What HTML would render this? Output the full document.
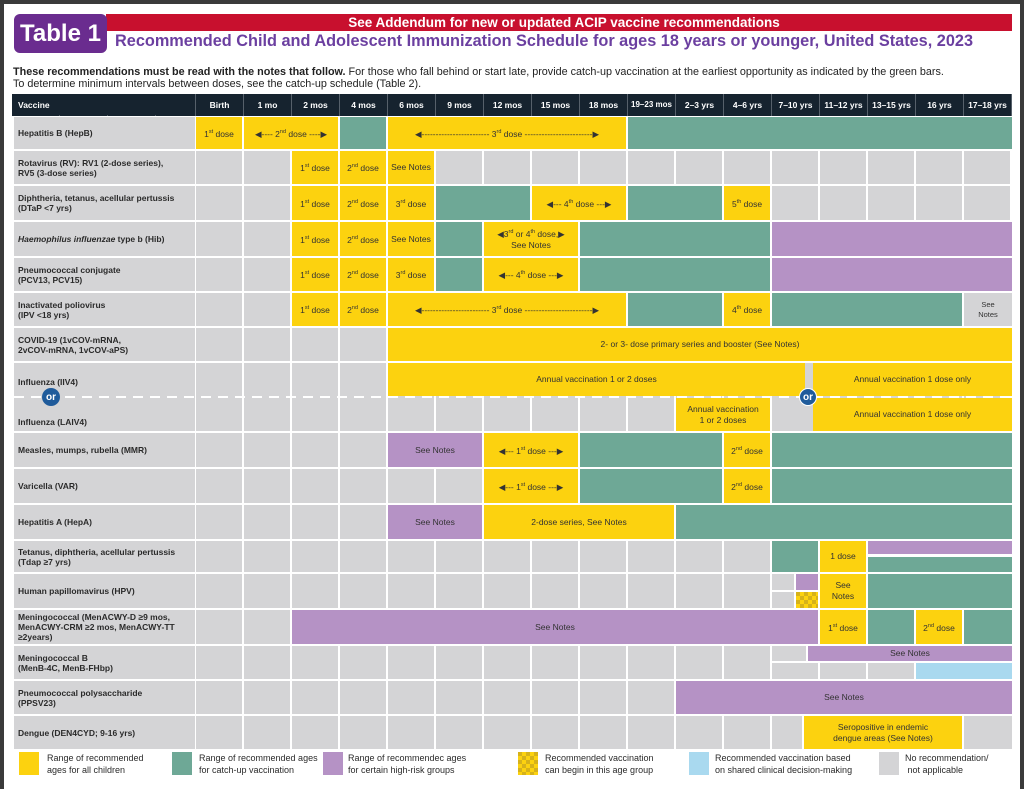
<!DOCTYPE html>
<html><head><meta charset="utf-8"><style>
*{margin:0;padding:0;box-sizing:border-box}
body{width:1024px;height:789px;background:#fff;position:relative;overflow:hidden;font-family:"Liberation Sans",sans-serif;color:#2a2a2a}
.a{position:absolute}
.r{position:absolute;left:12px;width:1000px}
.r .n{position:absolute;left:2px;top:1px;bottom:1px;width:181px;background:#d4d4d6;font-size:8.5px;font-weight:bold;padding-left:4px;display:flex;align-items:center;line-height:10px;color:#2a2a2a}
.r .g{position:absolute;left:183px;top:1px;bottom:1px;right:0;background:repeating-linear-gradient(90deg,#fff 0 1px,#d4d4d6 1px 47px,#fff 47px 48px)}
.b{position:absolute;display:flex;align-items:center;justify-content:center;text-align:center;font-size:8.5px;color:#333;line-height:11px}
.y{background:#fcd20f}.gr{background:#6ea896}.p{background:#b592c5}.gy{background:#d4d4d6}.bl{background:#a9d9ef}
sup{font-size:5.5px}
.h{position:absolute;top:0;height:21px;display:flex;align-items:center;justify-content:center;color:#fff;font-size:8.5px;font-weight:bold}
</style></head><body>
<div class="a" style="left:0;top:0;width:1024px;height:4px;background:#3a3a3a"></div>
<div class="a" style="left:0;top:0;width:4px;height:789px;background:#3a3a3a"></div>
<div class="a" style="right:0;top:0;width:4px;height:789px;background:#3a3a3a"></div>

<div class="a" style="left:106px;top:14px;width:906px;height:17px;background:#c8102e;color:#fff;font-weight:bold;font-size:13.5px;text-align:center;line-height:17px;padding-left:10px">See Addendum for new or updated ACIP vaccine recommendations</div>
<div class="a" style="left:14px;top:14px;width:93px;height:39px;background:#6a2c8f;border-radius:6px;color:#fff;font-weight:bold;font-size:24px;line-height:39px;text-align:center">Table 1</div>
<div class="a" style="left:115px;top:32px;font-size:16.3px;font-weight:bold;color:#6b3fa0;white-space:nowrap">Recommended Child and Adolescent Immunization Schedule for ages 18 years or younger, United States, 2023</div>
<div class="a" style="left:13px;top:66px;font-size:10.8px;line-height:12px;color:#222;white-space:nowrap"><b>These recommendations must be read with the notes that follow.</b> For those who fall behind or start late, provide catch-up vaccination at the earliest opportunity as indicated by the green bars.<br>To determine minimum intervals between doses, see the catch-up schedule (Table 2).</div>

<!-- header -->
<div class="a" style="left:12px;top:94px;width:1000px;height:22px;background:repeating-linear-gradient(90deg,#56606a 0 1px,#16232f 1px 48px);background-position:183px 0">
<div class="h" style="left:0;width:183px;background:#16232f;justify-content:flex-start;padding-left:6px">Vaccine</div>
<div class="h" style="left:184px;width:47px">Birth</div><div class="h" style="left:232px;width:47px">1 mo</div><div class="h" style="left:280px;width:47px">2 mos</div><div class="h" style="left:328px;width:47px">4 mos</div><div class="h" style="left:376px;width:47px">6 mos</div><div class="h" style="left:424px;width:47px">9 mos</div><div class="h" style="left:472px;width:47px">12 mos</div><div class="h" style="left:520px;width:47px">15 mos</div><div class="h" style="left:568px;width:47px">18 mos</div><div class="h" style="left:616px;width:47px;font-size:8px">19–23 mos</div><div class="h" style="left:664px;width:47px">2–3 yrs</div><div class="h" style="left:712px;width:47px">4–6 yrs</div><div class="h" style="left:760px;width:47px">7–10 yrs</div><div class="h" style="left:808px;width:47px">11–12 yrs</div><div class="h" style="left:856px;width:47px">13–15 yrs</div><div class="h" style="left:904px;width:47px">16 yrs</div><div class="h" style="left:952px;width:47px">17–18 yrs</div>
</div>

<!-- row backgrounds -->
<div class="r" style="top:116px;height:34px"><div class="n">Hepatitis B (HepB)</div><div class="g"></div></div>
<div class="r" style="top:150px;height:35px"><div class="n">Rotavirus (RV): RV1 (2-dose series),<br>RV5 (3-dose series)</div><div class="g"></div></div>
<div class="r" style="top:185px;height:36px"><div class="n">Diphtheria, tetanus, acellular pertussis<br>(DTaP &lt;7 yrs)</div><div class="g"></div></div>
<div class="r" style="top:221px;height:36px"><div class="n"><span><i>Haemophilus influenzae</i> type b (Hib)</span></div><div class="g"></div></div>
<div class="r" style="top:257px;height:35px"><div class="n">Pneumococcal conjugate<br>(PCV13, PCV15)</div><div class="g"></div></div>
<div class="r" style="top:292px;height:35px"><div class="n">Inactivated poliovirus<br>(IPV &lt;18 yrs)</div><div class="g"></div></div>
<div class="r" style="top:327px;height:35px"><div class="n">COVID-19 (1vCOV-mRNA,<br>2vCOV-mRNA, 1vCOV-aPS)</div><div class="g"></div></div>
<div class="r" style="top:362px;height:70px"><div class="n" style="align-items:flex-start;padding-top:14px;line-height:10px">Influenza (IIV4)<br><br><br><br>Influenza (LAIV4)</div><div class="g"></div></div>
<div class="r" style="top:432px;height:36px"><div class="n">Measles, mumps, rubella (MMR)</div><div class="g"></div></div>
<div class="r" style="top:468px;height:36px"><div class="n">Varicella (VAR)</div><div class="g"></div></div>
<div class="r" style="top:504px;height:36px"><div class="n">Hepatitis A (HepA)</div><div class="g"></div></div>
<div class="r" style="top:540px;height:33px"><div class="n">Tetanus, diphtheria, acellular pertussis<br>(Tdap ≥7 yrs)</div><div class="g"></div></div>
<div class="r" style="top:573px;height:36px"><div class="n">Human papillomavirus (HPV)</div><div class="g"></div></div>
<div class="r" style="top:609px;height:36px"><div class="n">Meningococcal (MenACWY-D ≥9 mos,<br>MenACWY-CRM ≥2 mos, MenACWY-TT<br>≥2years)</div><div class="g"></div></div>
<div class="r" style="top:645px;height:35px"><div class="n">Meningococcal B<br>(MenB-4C, MenB-FHbp)</div><div class="g"></div></div>
<div class="r" style="top:680px;height:35px"><div class="n">Pneumococcal polysaccharide<br>(PPSV23)</div><div class="g"></div></div>
<div class="r" style="top:715px;height:35px"><div class="n">Dengue (DEN4CYD; 9-16 yrs)</div><div class="g"></div></div>

<!-- HepB -->
<div class="b y" style="left:196px;top:117px;width:46px;height:32px"><span>1<sup>st</sup>&nbsp;dose</span></div>
<div class="b y" style="left:244px;top:117px;width:94px;height:32px"><span>◀‑‑‑‑ 2<sup>nd</sup>&nbsp;dose ‑‑‑‑▶</span></div>
<div class="b gr" style="left:340px;top:117px;width:46px;height:32px"></div>
<div class="b y" style="left:388px;top:117px;width:238px;height:32px"><span>◀‑‑‑‑‑‑‑‑‑‑‑‑‑‑‑‑‑‑‑‑‑‑‑‑ 3<sup>rd</sup>&nbsp;dose ‑‑‑‑‑‑‑‑‑‑‑‑‑‑‑‑‑‑‑‑‑‑‑‑▶</span></div>
<div class="b gr" style="left:628px;top:117px;width:384px;height:32px"></div>
<!-- Rota -->
<div class="b y" style="left:292px;top:151px;width:46px;height:33px"><span>1<sup>st</sup>&nbsp;dose</span></div>
<div class="b y" style="left:340px;top:151px;width:46px;height:33px"><span>2<sup>nd</sup>&nbsp;dose</span></div>
<div class="b y" style="left:388px;top:151px;width:46px;height:33px">See Notes</div>
<!-- DTaP -->
<div class="b y" style="left:292px;top:186px;width:46px;height:34px"><span>1<sup>st</sup>&nbsp;dose</span></div>
<div class="b y" style="left:340px;top:186px;width:46px;height:34px"><span>2<sup>nd</sup>&nbsp;dose</span></div>
<div class="b y" style="left:388px;top:186px;width:46px;height:34px"><span>3<sup>rd</sup>&nbsp;dose</span></div>
<div class="b gr" style="left:436px;top:186px;width:94px;height:34px"></div>
<div class="b y" style="left:532px;top:186px;width:94px;height:34px"><span>◀‑‑‑ 4<sup>th</sup>&nbsp;dose ‑‑‑▶</span></div>
<div class="b gr" style="left:628px;top:186px;width:94px;height:34px"></div>
<div class="b y" style="left:724px;top:186px;width:46px;height:34px"><span>5<sup>th</sup>&nbsp;dose</span></div>
<!-- Hib -->
<div class="b y" style="left:292px;top:222px;width:46px;height:34px"><span>1<sup>st</sup>&nbsp;dose</span></div>
<div class="b y" style="left:340px;top:222px;width:46px;height:34px"><span>2<sup>nd</sup>&nbsp;dose</span></div>
<div class="b y" style="left:388px;top:222px;width:46px;height:34px">See Notes</div>
<div class="b gr" style="left:436px;top:222px;width:46px;height:34px"></div>
<div class="b y" style="left:484px;top:222px;width:94px;height:34px"><span style="white-space:nowrap">◀3<sup>rd</sup>&nbsp;or&nbsp;4<sup>th</sup>&nbsp;dose,▶<br>See Notes</span></div>
<div class="b gr" style="left:580px;top:222px;width:190px;height:34px"></div>
<div class="b p" style="left:772px;top:222px;width:240px;height:34px"></div>
<!-- PCV -->
<div class="b y" style="left:292px;top:258px;width:46px;height:33px"><span>1<sup>st</sup>&nbsp;dose</span></div>
<div class="b y" style="left:340px;top:258px;width:46px;height:33px"><span>2<sup>nd</sup>&nbsp;dose</span></div>
<div class="b y" style="left:388px;top:258px;width:46px;height:33px"><span>3<sup>rd</sup>&nbsp;dose</span></div>
<div class="b gr" style="left:436px;top:258px;width:46px;height:33px"></div>
<div class="b y" style="left:484px;top:258px;width:94px;height:33px"><span>◀‑‑‑ 4<sup>th</sup>&nbsp;dose ‑‑‑▶</span></div>
<div class="b gr" style="left:580px;top:258px;width:190px;height:33px"></div>
<div class="b p" style="left:772px;top:258px;width:240px;height:33px"></div>
<!-- IPV -->
<div class="b y" style="left:292px;top:293px;width:46px;height:33px"><span>1<sup>st</sup>&nbsp;dose</span></div>
<div class="b y" style="left:340px;top:293px;width:46px;height:33px"><span>2<sup>nd</sup>&nbsp;dose</span></div>
<div class="b y" style="left:388px;top:293px;width:238px;height:33px"><span>◀‑‑‑‑‑‑‑‑‑‑‑‑‑‑‑‑‑‑‑‑‑‑‑‑ 3<sup>rd</sup>&nbsp;dose ‑‑‑‑‑‑‑‑‑‑‑‑‑‑‑‑‑‑‑‑‑‑‑‑▶</span></div>
<div class="b gr" style="left:628px;top:293px;width:94px;height:33px"></div>
<div class="b y" style="left:724px;top:293px;width:46px;height:33px"><span>4<sup>th</sup>&nbsp;dose</span></div>
<div class="b gr" style="left:772px;top:293px;width:190px;height:33px"></div>
<div class="b gy" style="left:964px;top:293px;width:48px;height:33px;font-size:7.5px;line-height:10px"><span>See<br>Notes</span></div>
<!-- COVID -->
<div class="b y" style="left:388px;top:328px;width:624px;height:33px">2- or 3- dose primary series and booster (See Notes)</div>
<!-- Flu -->
<div class="b y" style="left:388px;top:363px;width:417px;height:33px">Annual vaccination 1 or 2 doses</div>
<div class="b y" style="left:813px;top:363px;width:199px;height:33px">Annual vaccination 1 dose only</div>
<div class="b y" style="left:676px;top:398px;width:94px;height:33px"><span>Annual vaccination<br>1 or 2 doses</span></div>
<div class="b y" style="left:813px;top:398px;width:199px;height:33px">Annual vaccination 1 dose only</div>
<div class="a" style="left:14px;top:396px;width:998px;height:2px;background:repeating-linear-gradient(90deg,#fff 0 10px,transparent 10px 17px)"></div>
<div class="b" style="left:42px;top:388px;width:18px;height:18px;border-radius:50%;background:#1f5b9b;color:#fff;font-weight:bold;font-size:10px">or</div>
<div class="b" style="left:799px;top:388px;width:18px;height:18px;border-radius:50%;background:#1f5b9b;color:#fff;font-weight:bold;font-size:10px;border:1px solid #fff">or</div>
<!-- MMR -->
<div class="b p" style="left:388px;top:433px;width:94px;height:34px">See Notes</div>
<div class="b y" style="left:484px;top:433px;width:94px;height:34px"><span>◀‑‑‑ 1<sup>st</sup>&nbsp;dose ‑‑‑▶</span></div>
<div class="b gr" style="left:580px;top:433px;width:142px;height:34px"></div>
<div class="b y" style="left:724px;top:433px;width:46px;height:34px"><span>2<sup>nd</sup>&nbsp;dose</span></div>
<div class="b gr" style="left:772px;top:433px;width:240px;height:34px"></div>
<!-- VAR -->
<div class="b y" style="left:484px;top:469px;width:94px;height:34px"><span>◀‑‑‑ 1<sup>st</sup>&nbsp;dose ‑‑‑▶</span></div>
<div class="b gr" style="left:580px;top:469px;width:142px;height:34px"></div>
<div class="b y" style="left:724px;top:469px;width:46px;height:34px"><span>2<sup>nd</sup>&nbsp;dose</span></div>
<div class="b gr" style="left:772px;top:469px;width:240px;height:34px"></div>
<!-- HepA -->
<div class="b p" style="left:388px;top:505px;width:94px;height:34px">See Notes</div>
<div class="b y" style="left:484px;top:505px;width:190px;height:34px">2-dose series, See Notes</div>
<div class="b gr" style="left:676px;top:505px;width:336px;height:34px"></div>
<!-- Tdap -->
<div class="a" style="left:866px;top:541px;width:146px;height:31px;background:#fff"></div>
<div class="b gr" style="left:772px;top:541px;width:46px;height:31px"></div>
<div class="b y" style="left:820px;top:541px;width:46px;height:31px">1 dose</div>
<div class="b p" style="left:868px;top:541px;width:144px;height:13px"></div>
<div class="b gr" style="left:868px;top:557px;width:144px;height:15px"></div>
<!-- HPV -->
<div class="a" style="left:772px;top:574px;width:46px;height:34px;background:#fff"></div>
<div class="b gy" style="left:772px;top:574px;width:22px;height:16px"></div>
<div class="b p" style="left:796px;top:574px;width:22px;height:16px"></div>
<div class="b gy" style="left:772px;top:592px;width:22px;height:16px"></div>
<div class="b" style="left:796px;top:592px;width:22px;height:16px;background:repeating-conic-gradient(#fcd20f 0 25%,#d6b21a 0 50%) 0 0/8px 8px"></div>
<div class="b y" style="left:820px;top:574px;width:46px;height:34px"><span>See<br>Notes</span></div>
<div class="b gr" style="left:868px;top:574px;width:144px;height:34px"></div>
<!-- MenACWY -->
<div class="b p" style="left:292px;top:610px;width:526px;height:34px">See Notes</div>
<div class="b y" style="left:820px;top:610px;width:46px;height:34px"><span>1<sup>st</sup>&nbsp;dose</span></div>
<div class="b gr" style="left:868px;top:610px;width:46px;height:34px"></div>
<div class="b y" style="left:916px;top:610px;width:46px;height:34px"><span>2<sup>nd</sup>&nbsp;dose</span></div>
<div class="b gr" style="left:964px;top:610px;width:48px;height:34px"></div>
<!-- MenB -->
<div class="a" style="left:772px;top:646px;width:240px;height:33px;background:#fff"></div>
<div class="b gy" style="left:772px;top:646px;width:34px;height:15px"></div>
<div class="b p" style="left:808px;top:646px;width:204px;height:15px">See Notes</div>
<div class="b gy" style="left:772px;top:663px;width:46px;height:16px"></div>
<div class="b gy" style="left:820px;top:663px;width:46px;height:16px"></div>
<div class="b gy" style="left:868px;top:663px;width:46px;height:16px"></div>
<div class="b bl" style="left:916px;top:663px;width:96px;height:16px"></div>
<!-- PPSV -->
<div class="b p" style="left:676px;top:681px;width:336px;height:33px">See Notes</div>
<!-- Dengue -->
<div class="a" style="left:772px;top:716px;width:240px;height:33px;background:#fff"></div>
<div class="b gy" style="left:772px;top:716px;width:30px;height:33px"></div>
<div class="b y" style="left:804px;top:716px;width:158px;height:33px"><span>Seropositive in endemic<br>dengue areas (See Notes)</span></div>
<div class="b gy" style="left:964px;top:716px;width:48px;height:33px"></div>

<!-- legend -->
<div class="a y" style="left:19px;top:752px;width:20px;height:23px"></div>
<div class="a" style="left:47px;top:752px;font-size:9px;line-height:12px">Range of recommended<br>ages for all children</div>
<div class="a gr" style="left:172px;top:752px;width:20px;height:23px"></div>
<div class="a" style="left:199px;top:752px;font-size:9px;line-height:12px">Range of recommended ages<br>for catch-up vaccination</div>
<div class="a p" style="left:323px;top:752px;width:20px;height:23px"></div>
<div class="a" style="left:348px;top:752px;font-size:9px;line-height:12px">Range of recommendec ages<br>for certain high-risk groups</div>
<div class="a" style="left:518px;top:752px;width:20px;height:23px;background:repeating-conic-gradient(#fcd20f 0 25%,#d6b21a 0 50%) 0 0/8px 8px"></div>
<div class="a" style="left:545px;top:752px;font-size:9px;line-height:12px">Recommended vaccination<br>can begin in this age group</div>
<div class="a bl" style="left:689px;top:752px;width:20px;height:23px"></div>
<div class="a" style="left:715px;top:752px;font-size:9px;line-height:12px">Recommended vaccination based<br>on shared clinical decision-making</div>
<div class="a gy" style="left:879px;top:752px;width:20px;height:23px"></div>
<div class="a" style="left:905px;top:752px;font-size:9px;line-height:12px">No recommendation/<br>&nbsp;not applicable</div>
</body></html>
